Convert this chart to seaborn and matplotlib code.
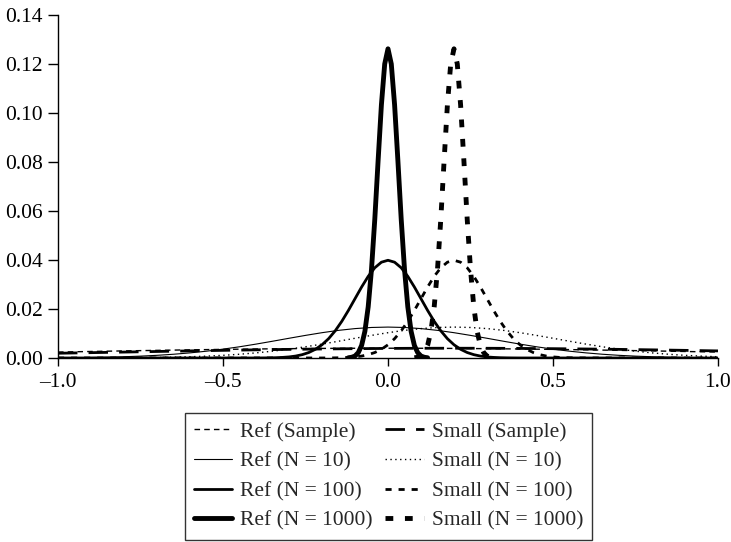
import matplotlib
matplotlib.use("Agg")
import matplotlib.pyplot as plt
import seaborn as sns
import pandas as pd
from matplotlib.lines import Line2D

# ---------------- data ----------------
# broad curves on a 0.05 grid
x_wide = [-1.00, -0.95, -0.90, -0.85, -0.80, -0.75, -0.70, -0.65, -0.60, -0.55,
          -0.50, -0.45, -0.40, -0.35, -0.30, -0.25, -0.20, -0.15, -0.10, -0.05,
          0.00, 0.05, 0.10, 0.15, 0.20, 0.25, 0.30, 0.35, 0.40, 0.45,
          0.50, 0.55, 0.60, 0.65, 0.70, 0.75, 0.80, 0.85, 0.90, 0.95, 1.00]
ref_n10 = [0.00008, 0.00014, 0.00022, 0.00034, 0.00051, 0.00076, 0.00109, 0.00153, 0.00209, 0.00278,
           0.00362, 0.00458, 0.00567, 0.00684, 0.00805, 0.00923, 0.01033, 0.01128, 0.01200, 0.01246,
           0.01262, 0.01246, 0.01200, 0.01128, 0.01033, 0.00923, 0.00805, 0.00684, 0.00567, 0.00458,
           0.00362, 0.00278, 0.00209, 0.00153, 0.00109, 0.00076, 0.00051, 0.00034, 0.00022, 0.00014, 0.00008]
small_n10 = [0.00001, 0.00002, 0.00003, 0.00005, 0.00008, 0.00014, 0.00022, 0.00034, 0.00051, 0.00076,
             0.00109, 0.00153, 0.00209, 0.00278, 0.00362, 0.00458, 0.00567, 0.00684, 0.00805, 0.00923,
             0.01033, 0.01128, 0.01200, 0.01246, 0.01262, 0.01246, 0.01200, 0.01128, 0.01033, 0.00923,
             0.00805, 0.00684, 0.00567, 0.00458, 0.00362, 0.00278, 0.00209, 0.00153, 0.00109, 0.00076, 0.00051]

# sample curves on a 0.1 grid
x_sample = [-1.0, -0.9, -0.8, -0.7, -0.6, -0.5, -0.4, -0.3, -0.2, -0.1, 0.0,
            0.1, 0.2, 0.3, 0.4, 0.5, 0.6, 0.7, 0.8, 0.9, 1.0]
ref_sample = [0.00242, 0.00266, 0.00290, 0.00312, 0.00333, 0.00352, 0.00368, 0.00381, 0.00391, 0.00397, 0.00399,
              0.00397, 0.00391, 0.00381, 0.00368, 0.00352, 0.00333, 0.00312, 0.00290, 0.00266, 0.00242]
small_sample = [0.00194, 0.00218, 0.00242, 0.00266, 0.00290, 0.00312, 0.00333, 0.00352, 0.00368, 0.00381, 0.00391,
                0.00397, 0.00399, 0.00397, 0.00391, 0.00381, 0.00368, 0.00352, 0.00333, 0.00312, 0.00290]

# N = 100 curves on a 0.02 grid
x_ref_n100 = [-1.00, -0.40, -0.38, -0.36, -0.34, -0.32, -0.30, -0.28, -0.26, -0.24, -0.22,
              -0.20, -0.18, -0.16, -0.14, -0.12, -0.10, -0.08, -0.06, -0.04, -0.02,
              0.00, 0.02, 0.04, 0.06, 0.08, 0.10, 0.12, 0.14, 0.16, 0.18,
              0.20, 0.22, 0.24, 0.26, 0.28, 0.30, 0.32, 0.34, 0.36, 0.38, 0.40, 1.00]
x_small_n100 = [-1.00, -0.20, -0.18, -0.16, -0.14, -0.12, -0.10, -0.08, -0.06, -0.04, -0.02,
                0.00, 0.02, 0.04, 0.06, 0.08, 0.10, 0.12, 0.14, 0.16, 0.18,
                0.20, 0.22, 0.24, 0.26, 0.28, 0.30, 0.32, 0.34, 0.36, 0.38,
                0.40, 0.42, 0.44, 0.46, 0.48, 0.50, 0.52, 0.54, 0.56, 0.58, 0.60, 1.00]
n100_vals = [0.0, 0.00001, 0.00003, 0.00006, 0.00012, 0.00024, 0.00044, 0.00079, 0.00136, 0.00224, 0.00355,
             0.00540, 0.00789, 0.01109, 0.01497, 0.01942, 0.02420, 0.02897, 0.03332, 0.03683, 0.03910,
             0.03989, 0.03910, 0.03683, 0.03332, 0.02897, 0.02420, 0.01942, 0.01497, 0.01109, 0.00789,
             0.00540, 0.00355, 0.00224, 0.00136, 0.00079, 0.00044, 0.00024, 0.00012, 0.00006, 0.00003, 0.00001, 0.0]
ref_n100 = n100_vals
small_n100 = n100_vals

# N = 1000 curves on a 0.01 grid
x_ref_n1000 = [-0.12, -0.11, -0.10, -0.09, -0.08, -0.07, -0.06, -0.05, -0.04, -0.03, -0.02, -0.01,
               0.00, 0.01, 0.02, 0.03, 0.04, 0.05, 0.06, 0.07, 0.08, 0.09, 0.10, 0.11, 0.12]
x_small_n1000 = [0.08, 0.09, 0.10, 0.11, 0.12, 0.13, 0.14, 0.15, 0.16, 0.17, 0.18, 0.19,
                 0.20, 0.21, 0.22, 0.23, 0.24, 0.25, 0.26, 0.27, 0.28, 0.29, 0.30, 0.31, 0.32]
n1000_vals = [0.0001, 0.0003, 0.0008, 0.0022, 0.0051, 0.0109, 0.0209, 0.0362, 0.0567, 0.0805, 0.1033, 0.1200,
              0.1262, 0.1200, 0.1033, 0.0805, 0.0567, 0.0362, 0.0209, 0.0109, 0.0051, 0.0022, 0.0008, 0.0003, 0.0001]
ref_n1000 = n1000_vals
small_n1000 = n1000_vals

series_labels = ["Ref (Sample)", "Ref (N = 10)", "Ref (N = 100)", "Ref (N = 1000)",
                 "Small (Sample)", "Small (N = 10)", "Small (N = 100)", "Small (N = 1000)"]
x_ticks = [-1.0, -0.5, 0.0, 0.5, 1.0]
x_tick_labels = ["\u20131.0", "\u20130.5", "0.0", "0.5", "1.0"]
y_ticks = [0.00, 0.02, 0.04, 0.06, 0.08, 0.10, 0.12, 0.14]
y_tick_labels = ["0.00", "0.02", "0.04", "0.06", "0.08", "0.10", "0.12", "0.14"]

series_data = [
    (x_sample, ref_sample),
    (x_wide, ref_n10),
    (x_ref_n100, ref_n100),
    (x_ref_n1000, ref_n1000),
    (x_sample, small_sample),
    (x_wide, small_n10),
    (x_small_n100, small_n100),
    (x_small_n1000, small_n1000),
]

# ---------------- styling ----------------
sns.set_style("ticks")
plt.rcParams["font.family"] = ["Liberation Serif", "DejaVu Serif"]
FS = 15.5

styles = [
    dict(lw=1.0, dashes=(4, 3)),          # Ref (Sample)
    dict(lw=0.8, dashes=None),            # Ref N=10
    dict(lw=2.0, dashes=None),            # Ref N=100
    dict(lw=3.5, dashes=None),            # Ref N=1000
    dict(lw=2.0, dashes=(7, 4)),          # Small (Sample)
    dict(lw=1.0, dashes=(1, 2.5)),        # Small N=10
    dict(lw=2.0, dashes=(2.2, 2.5)),      # Small N=100
    dict(lw=3.5, dashes=(1.6, 2.4)),      # Small N=1000
]

fig = plt.figure(figsize=(7.31, 5.42), dpi=100)
ax = fig.add_axes([58 / 731, 1 - 358 / 542, (718 - 58) / 731, (358 - 15) / 542])

handles = []
for (xs, ys), lab, st in zip(series_data, series_labels, styles):
    df = pd.DataFrame({"x": xs, "y": ys})
    sns.lineplot(data=df, x="x", y="y", ax=ax, color="black", lw=st["lw"],
                 sort=False, estimator=None, legend=False)
    line = ax.lines[-1]
    if st["dashes"] is not None:
        line.set_dashes(st["dashes"])
    h = Line2D([], [], color="black", lw=st["lw"])
    if st["dashes"] is not None:
        h.set_dashes(st["dashes"])
    handles.append(h)

ax.set_xlim(-1, 1)
ax.set_ylim(0, 0.14)
ax.set_xticks(x_ticks)
ax.set_xticklabels(x_tick_labels, fontsize=FS)
ax.set_yticks(y_ticks)
ax.set_yticklabels(y_tick_labels, fontsize=FS)
ax.set_xlabel("")
ax.set_ylabel("")
sns.despine(ax=ax)
for s in ["left", "bottom"]:
    ax.spines[s].set_color("black")
    ax.spines[s].set_linewidth(1.0)
ax.tick_params(axis="y", colors="black", length=7, width=1.0, direction="out", pad=4)
ax.tick_params(axis="x", colors="black", length=6, width=1.0, direction="out", pad=5)

leg = fig.legend(handles, series_labels, ncol=2, loc="upper left",
                 bbox_to_anchor=(185 / 731, 1 - 413 / 542), bbox_transform=fig.transFigure,
                 fontsize=FS, frameon=True, fancybox=False, handlelength=1.8,
                 handletextpad=0.35, columnspacing=0.6, labelspacing=0.45,
                 borderpad=0.4, borderaxespad=0)
leg.get_frame().set_edgecolor("black")
leg.get_frame().set_linewidth(1.0)

fig.savefig("out.png", dpi=100)
